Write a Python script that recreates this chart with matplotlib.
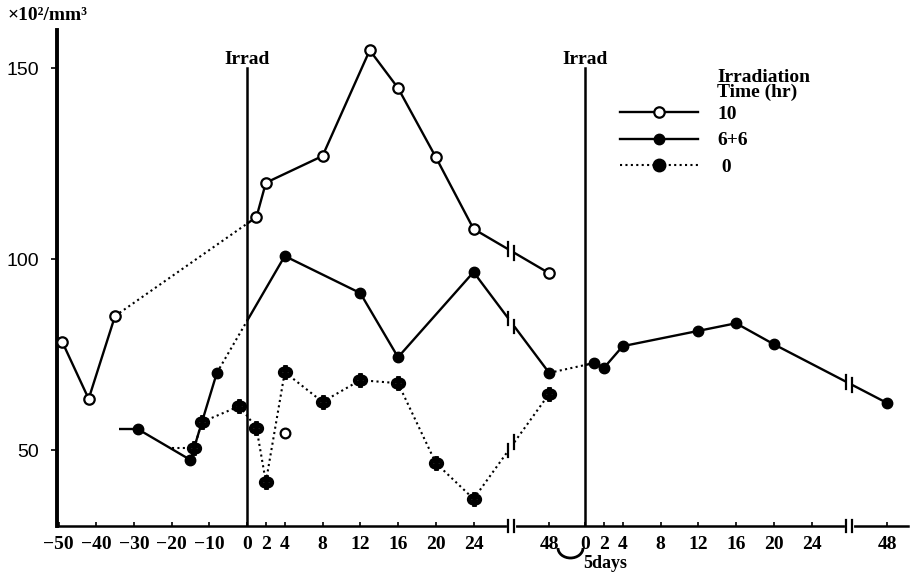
import matplotlib
matplotlib.use("Agg")
import matplotlib.pyplot as plt
from matplotlib.lines import Line2D
from matplotlib.patches import Arc

plt.rcParams['font.family'] = ['Liberation Serif', 'DejaVu Serif']
plt.rcParams['font.weight'] = 'bold'

# phases: "pre" = before first irradiation, "p1" = after it, "p2" = after the 5 day gap
ten_phase = ["pre", "pre", "pre", "p1", "p1", "p1", "p1", "p1", "p1", "p1", "p1"]
ten_hour = [-49, -42, -35, 1, 2, 8, 13, 16, 20, 24, 48]
ten_val = [78.3, 63.4, 85.1, 111, 120, 127, 154.7, 144.8, 126.7, 107.9, 96.3]
ten_lone_hour = [4]          # unconnected open circle
ten_lone_val = [54.4]

six_phase = ["pre", "pre", "pre", "p1", "p1", "p1", "p1", "p1",
             "p2", "p2", "p2", "p2", "p2", "p2", "p2"]
six_hour = [-29, -15, -8, 4, 12, 16, 24, 48, 1, 2, 4, 12, 16, 20, 48]
six_val = [55.5, 47.4, 70.2, 100.8, 91.1, 74.3, 96.6, 70.2,
           72.8, 71.5, 77.2, 81.2, 83.2, 77.7, 62.3]
six_lead = -34               # line runs in from here

zero_phase = ["pre", "pre", "pre", "p1", "p1", "p1", "p1", "p1", "p1", "p1", "p1", "p1"]
zero_hour = [-14, -12, -2, 1, 2, 4, 8, 12, 16, 20, 24, 48]
zero_val = [50.5, 57.3, 61.5, 55.8, 41.6, 70.4, 62.6, 68.3, 67.5, 46.6, 37.2, 64.7]
zero_lead = -20

pre_ticks = [-50, -40, -30, -20, -10]
post_ticks = [0, 2, 4, 8, 12, 16, 20, 24, 48]
yticks = [50, 100, 150]


def pos(phase, h):
    # piecewise axis: slow scale before irradiation, compressed 24-48 h
    if phase == "pre":
        return 247 + 3.77 * h
    origin = 247 if phase == "p1" else 585
    if h <= 24:
        return origin + 9.44 * h
    return origin + 9.44 * 24 + (h - 24) * 3.15


IRRAD = [pos("p1", 0), pos("p2", 0)]
BREAKS = [pos("p1", 36), pos("p2", 36)]
GAP = 3

SOLID = dict(color='k', lw=1.7, solid_capstyle='butt')
DOT = dict(color='k', lw=1.5, linestyle=(0, (1, 1.6)))

fig = plt.figure(figsize=(9.1, 5.83), dpi=100)
ax = fig.add_axes([57 / 910, 57 / 583, 851 / 910, 496 / 583])
ax.set_xlim(57, 908)
ax.set_ylim(30.1, 160)


def draw_seg(u0, v0, u1, v1, dotted):
    f = lambda u: v0 + (v1 - v0) * (u - u0) / (u1 - u0)
    for b in BREAKS:
        if u0 < b < u1:
            draw_seg(u0, v0, b - GAP, f(b - GAP), dotted)
            draw_seg(b + GAP, f(b + GAP), u1, v1, dotted)
            for ub in (b - GAP, b + GAP):
                ax.plot([ub, ub], [f(ub) - 1.8, f(ub) + 1.8], color='k', lw=1.6)
            return
    if not dotted:
        for g in IRRAD:
            if u0 < g < u1:
                ax.plot([u0, g], [v0, f(g)], **DOT)
                ax.plot([g, u1], [f(g), v1], **SOLID)
                return
    ax.plot([u0, u1], [v0, v1], **(DOT if dotted else SOLID))


def draw_series(phases, hours, vals, dotted):
    us = [pos(p, h) for p, h in zip(phases, hours)]
    for i in range(len(us) - 1):
        draw_seg(us[i], vals[i], us[i + 1], vals[i + 1], dotted)
    return us


u10 = draw_series(ten_phase, ten_hour, ten_val, False)
u66 = draw_series(six_phase, six_hour, six_val, False)
u0 = draw_series(zero_phase, zero_hour, zero_val, True)
draw_seg(pos("pre", six_lead), six_val[0], u66[0], six_val[0], False)
draw_seg(pos("pre", zero_lead), zero_val[0], u0[0], zero_val[0], True)

ax.plot(u10, ten_val, 'o', ms=7.5, mfc='white', mec='k', mew=1.6, zorder=5)
ax.plot([pos("p1", h) for h in ten_lone_hour], ten_lone_val, 'o', ms=7,
        mfc='white', mec='k', mew=1.6, zorder=5)
ax.plot(u66, six_val, 'o', ms=7.5, mfc='k', mec='k', zorder=5)
ax.plot(u0, zero_val, ls='none', marker=r'$\Phi$', ms=10, color='k', zorder=5)

# irradiation lines
for g in IRRAD:
    ax.plot([g, g], [30.1, 150], color='k', lw=1.8)
    ax.text(g, 151, 'Irrad', ha='center', va='baseline', fontsize=14)

for s in ['top', 'right']:
    ax.spines[s].set_visible(False)
ax.spines['left'].set_linewidth(2.8)
ax.spines['bottom'].set_linewidth(1.8)

xt = [pos("pre", h) for h in pre_ticks] + [pos("p1", h) for h in post_ticks] \
     + [pos("p2", h) for h in post_ticks]
xl = [str(h).replace('-', '\u2212') for h in pre_ticks] + [str(h) for h in post_ticks] * 2
ax.set_xticks(xt)
ax.set_xticklabels(xl)
ax.set_yticks(yticks)
ax.tick_params(axis='x', direction='in', length=3, width=1.2, pad=7, labelsize=14)
ax.tick_params(axis='y', direction='out', length=4, width=1.2, pad=9, labelsize=14)
for lbl in ax.get_yticklabels():
    lbl.set_fontfamily('Liberation Sans')
    lbl.set_fontweight('normal')

# axis break marks
xtr = ax.get_xaxis_transform()
for b in BREAKS:
    ax.plot([b - GAP + 0.8, b + GAP - 0.8], [0, 0], transform=xtr, color='white',
            lw=3, clip_on=False, zorder=6)
    for ub in (b - GAP, b + GAP):
        ax.plot([ub, ub], [-0.013, 0.013], transform=xtr, color='k', lw=1.6,
                clip_on=False, zorder=7)

# legend
h10 = Line2D([], [], color='k', lw=1.7, marker='o', ms=7.5, mfc='white', mec='k', mew=1.6)
h66 = Line2D([], [], color='k', lw=1.7, marker='o', ms=7.5, mfc='k', mec='k')
h0 = Line2D([], [], color='k', lw=1.5, ls=(0, (1, 1.6)), marker='o', ms=9, mfc='k', mec='k')
ax.legend([h10, h66, h0], ['10', '6+6', ' 0'], loc='upper left',
          bbox_to_anchor=(0.6616, 0.848), frameon=False, handlelength=4.0,
          handletextpad=1.0, labelspacing=0.45, borderpad=0, borderaxespad=0,
          fontsize=14, numpoints=1)
ax.text(0.7756, 0.922, 'Irradiation\nTime (hr)', transform=ax.transAxes,
        ha='left', va='top', fontsize=14, linespacing=0.88)

fig.text(8 / 910, 1 - 15 / 583, '\u00d710\u00b2/mm\u00b3', ha='left', va='center',
         fontsize=14)

# 5 days gap mark under the axis
fig.add_artist(Arc((5.705, 0.35), 0.25, 0.2, theta1=180, theta2=360,
                   transform=fig.dpi_scale_trans, color='k', lw=2))
fig.text(605 / 910, 1 - 563 / 583, '5days', ha='center', va='center', fontsize=13)

fig.savefig('out.png', dpi=100)
